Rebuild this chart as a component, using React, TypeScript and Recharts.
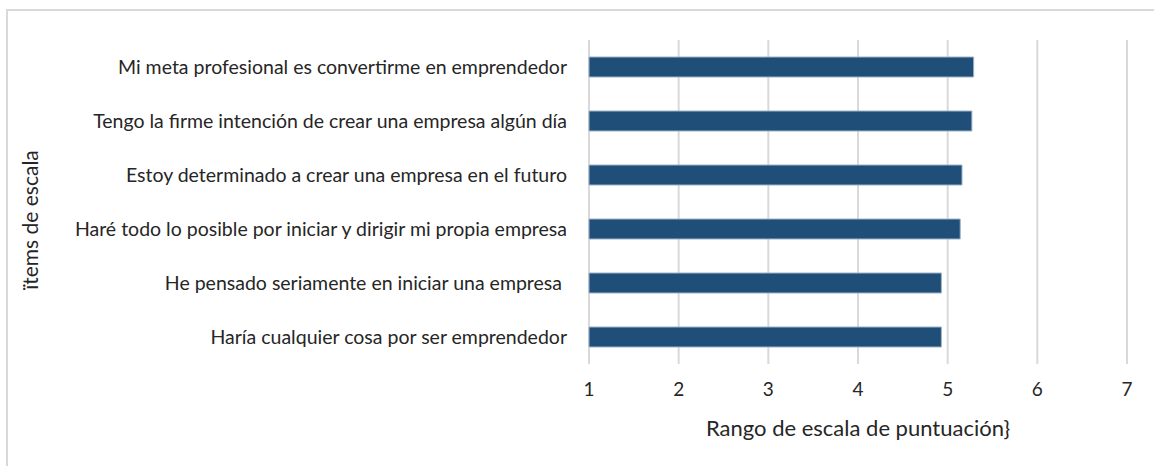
import { Bar, BarChart, CartesianGrid, XAxis, YAxis } from "recharts";

const items = [
  "Mi meta profesional es convertirme en emprendedor",
  "Tengo la firme  intención de crear una empresa algún día",
  "Estoy determinado a crear una empresa en  el futuro",
  "Haré todo lo posible por iniciar y dirigir mi propia empresa",
  "He pensado seriamente en iniciar una empresa ",
  "Haría cualquier cosa por ser emprendedor",
];
const scores = [5.29, 5.27, 5.16, 5.14, 4.93, 4.93];
const scaleTicks = [1, 2, 3, 4, 5, 6, 7];

const FONT = "Lato, 'Liberation Sans', sans-serif";
const TEXT = "#262626";

const data = items.map((item, i) => ({ item, score: scores[i] }));

export default function App() {
  return (
    <div style={{ position: "absolute", left: 0, top: 0, width: 1154, height: 466, background: "#fff", fontFamily: FONT }}>
      <div
        style={{
          position: "absolute",
          left: 6,
          top: 9,
          right: 0,
          bottom: 0,
          borderLeft: "2px solid #d9d9d9",
          borderTop: "2px solid #d9d9d9",
        }}
      />
      <BarChart
        width={1154}
        height={466}
        layout="vertical"
        data={data}
        margin={{ top: 40, right: 27, bottom: 22, left: 29 }}
        style={{ position: "absolute", left: 0, top: 0 }}
      >
        <CartesianGrid horizontal={false} stroke="#d9d9d9" strokeWidth={2} verticalValues={scaleTicks} />
        <XAxis
          type="number"
          domain={[1, 7]}
          ticks={scaleTicks}
          axisLine={false}
          tickLine={false}
          tickMargin={13}
          tick={{ fill: TEXT, fontSize: 19, fontFamily: FONT }}
          height={80}
          label={{ value: "Rango de escala de puntuación}", position: "insideBottom", offset: 8, fill: TEXT, fontSize: 22, fontFamily: FONT }}
        />
        <YAxis
          type="category"
          dataKey="item"
          width={560}
          axisLine={false}
          tickLine={false}
          tickSize={0}
          tickMargin={22}
          interval={0}
          tick={{ fill: TEXT, fontSize: 19.5, fontFamily: FONT, style: { whiteSpace: "pre" } }}
          label={{ value: "ïtems de escala", angle: -90, position: "insideLeft", offset: 2, dy: 18, fill: TEXT, fontSize: 21, fontFamily: FONT, style: { textAnchor: "middle" } }}
        />
        <Bar dataKey="score" fill="#1f4e79" stroke="#9fb3c8" strokeWidth={1} barSize={20} isAnimationActive={false} />
      </BarChart>
    </div>
  );
}
